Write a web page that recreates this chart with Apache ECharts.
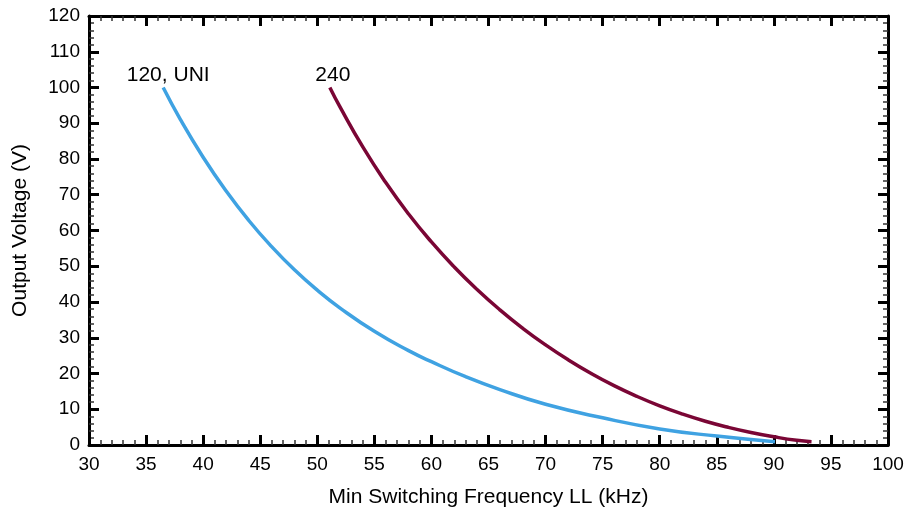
<!DOCTYPE html>
<html>
<head>
<meta charset="utf-8">
<script src="https://cdn.jsdelivr.net/npm/echarts@6/dist/echarts.min.js"></script>
<style>html,body{margin:0;padding:0;background:#fff}#c{width:907px;height:515px}</style>
</head>
<body>
<div id="c"></div>
<script>
var xAxisName = 'Min Switching Frequency LL (kHz)';
var yAxisName = 'Output Voltage (V)';
var uniName = '120, UNI';
var uniX = [36.5, 38, 40, 42, 44, 46, 48, 50, 52, 55, 58, 60, 63, 66, 70, 75, 80, 85, 90.1];
var uniY = [100, 91.1, 80.5, 71.1, 62.8, 55.5, 49, 43.3, 38.3, 31.8, 26.4, 23.3, 19.1, 15.5, 11.4, 7.6, 4.5, 2.5, 0.9];
var hvName = '240';
var hvX = [51.1, 52, 54, 56, 58, 60, 62, 64, 66, 68, 70, 72, 74, 76, 78, 80, 82, 84, 86, 88, 90, 92, 93.3];
var hvY = [100, 94.5, 83.3, 73.4, 64.6, 56.8, 49.8, 43.5, 37.8, 32.65, 28, 23.8, 20, 16.6, 13.6, 10.95, 8.65, 6.65, 4.95, 3.5, 2.3, 1.3, 0.9];

var font = 'Liberation Sans, Arial, sans-serif';

function startLabel(x, y, text, dx) {
  return {
    symbol: 'circle', symbolSize: 0,
    data: [{ coord: [x, y], value: text,
      label: { show: true, position: 'top', distance: 2, offset: [dx, 0], formatter: text,
        fontSize: 21, color: '#000', fontFamily: font } }]
  };
}

function xAx(pos, show) {
  return {
    type: 'value', position: pos, min: 30, max: 100, interval: 5,
    name: show ? xAxisName : '', nameLocation: 'middle', nameGap: 42,
    nameTextStyle: { fontSize: 21, color: '#000', fontFamily: font },
    axisLine: { show: true, onZero: false, lineStyle: { color: '#000', width: 3 } },
    axisTick: { show: true, inside: true, length: 10, lineStyle: { color: '#000', width: 3 } },
    minorTick: { show: true, splitNumber: 5, length: 5, lineStyle: { color: '#333', width: 1.5 } },
    axisLabel: { show: show, fontSize: 19, color: '#000', margin: 10, fontFamily: font },
    splitLine: { show: false }
  };
}
function yAx(pos, show) {
  return {
    type: 'value', position: pos, min: 0, max: 120, interval: 10,
    name: show ? yAxisName : '', nameLocation: 'middle', nameGap: 58,
    nameTextStyle: { fontSize: 21, color: '#000', fontFamily: font },
    axisLine: { show: true, onZero: false, lineStyle: { color: '#000', width: 3 } },
    axisTick: { show: true, inside: true, length: 10, lineStyle: { color: '#000', width: 3 } },
    minorTick: { show: true, splitNumber: 5, length: 5, lineStyle: { color: '#333', width: 1.5 } },
    axisLabel: { show: show, fontSize: 19, color: '#000', margin: 9, fontFamily: font },
    splitLine: { show: false }
  };
}

function pairs(xs, ys) { return xs.map(function (x, i) { return [x, ys[i]]; }); }

var chart = echarts.init(document.getElementById('c'), null, { renderer: 'canvas' });
chart.setOption({
  backgroundColor: '#fff',
  animation: false,
  grid: { left: 89, right: 19, top: 16, bottom: 70, containLabel: false },
  xAxis: [xAx('bottom', true), xAx('top', false)],
  yAxis: [yAx('left', true), yAx('right', false)],
  series: [
    { name: uniName, type: 'line', smooth: 0.5, symbol: 'none',
      lineStyle: { color: '#3fa2e2', width: 3.5 }, data: pairs(uniX, uniY),
      markPoint: startLabel(uniX[0], uniY[0], uniName, 5) },
    { name: hvName, type: 'line', smooth: 0.5, symbol: 'none',
      lineStyle: { color: '#7a0635', width: 3.5 }, data: pairs(hvX, hvY),
      markPoint: startLabel(hvX[0], hvY[0], hvName, 3) }
  ]
});
</script>
</body>
</html>
